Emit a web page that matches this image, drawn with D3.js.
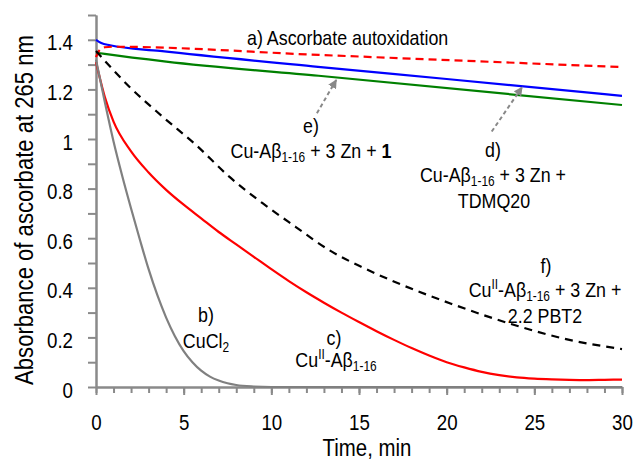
<!DOCTYPE html>
<html>
<head>
<meta charset="utf-8">
<script src="https://cdn.jsdelivr.net/npm/d3@7"></script>
<style>
  body { margin: 0; background: #fff; }
  text { font-family: "Liberation Sans Narrow", "Arial Narrow", "Liberation Sans", sans-serif; fill: #000; }
</style>
</head>
<body>
<svg width="638" height="460"></svg>
<script>
// time (min) / absorbance pairs
const autoxT = [0, 0.2, 0.5, 1, 12.7, 30]
const autoxV = [1.33, 1.358, 1.37, 1.372, 1.339, 1.29]

const cuclT = [0, 0.5, 1, 1.5, 2, 2.5, 3, 3.5, 4, 4.5, 5, 5.5, 6, 6.5, 7, 7.5, 8, 9, 10, 15, 20, 25, 30]
const cuclV = [1.32, 1.15, 0.99, 0.85, 0.72, 0.595, 0.475, 0.37, 0.28, 0.205, 0.145, 0.1, 0.066, 0.042, 0.026, 0.015, 0.008, 0.002, 0, 0, 0, 0, 0]

const cuAbT = [0, 0.5, 1, 2, 3, 4, 5, 6, 7, 8, 9, 10, 11, 12, 13, 14, 15, 16, 17, 18, 19, 20, 21, 22, 23, 24, 25, 26, 27, 28, 29, 30]
const cuAbV = [1.31, 1.17, 1.07, 0.95, 0.865, 0.795, 0.735, 0.68, 0.625, 0.575, 0.525, 0.475, 0.427, 0.382, 0.34, 0.3, 0.262, 0.225, 0.19, 0.157, 0.127, 0.1, 0.079, 0.061, 0.048, 0.039, 0.034, 0.031, 0.029, 0.028, 0.029, 0.03]

const tdmqT = [0, 0.3, 0.8, 3.65, 12.66, 20, 30]
const tdmqV = [1.40, 1.387, 1.378, 1.355, 1.291, 1.242, 1.174]

const cmpd1T = [0, 0.5, 4, 12.7, 30]
const cmpd1V = [1.348, 1.343, 1.312, 1.255, 1.137]

const pbt2T = [0, 1.9, 3.8, 5.7, 7.6, 9.5, 11.4, 13.3, 15.2, 16.9, 20.25, 24.1, 27, 30]
const pbt2V = [1.355, 1.211, 1.09, 0.976, 0.848, 0.741, 0.645, 0.552, 0.482, 0.428, 0.336, 0.245, 0.19, 0.153]

const xMajor = [0, 5, 10, 15, 20, 25, 30]
const xMinor = d3.range(0, 31)
const yMajor = [0, 0.2, 0.4, 0.6, 0.8, 1, 1.2, 1.4]
const yMinor = [0.1, 0.3, 0.5, 0.7, 0.9, 1.1, 1.3, 1.5]

// arrows: [tailT, tailV, tipT, tipV]
const arrowE = [12.6, 1.104, 13.7, 1.238]
const arrowD = [22.57, 1.03, 24.3, 1.209]

let svg = d3.select("svg")
let x = d3.scaleLinear().domain([0, 30]).range([96, 622])
let y = d3.scaleLinear().domain([0, 1.5]).range([387, 15])

let axisColor = "#8a8a8a"
let squeeze = 0.85   // no narrow font installed, so squeeze the regular one

// x axis
let gx = svg.append("g").attr("transform", "translate(0,387)")
gx.call(d3.axisBottom(x).tickValues(xMinor).tickSize(6).tickSizeOuter(0).tickFormat(""))
let gx2 = svg.append("g").attr("transform", "translate(0,387)")
gx2.call(d3.axisBottom(x).tickValues(xMajor).tickSize(8).tickSizeOuter(0).tickFormat(d3.format("d")))
gx2.selectAll("text").attr("x", 0).attr("y", 0).attr("dy", 0)
  .attr("transform", `translate(0,43) scale(${squeeze},1)`).style("font-size", "22px")

// y axis
let gy = svg.append("g").attr("transform", "translate(96,0)")
gy.call(d3.axisLeft(y).tickValues(yMinor).tickSize(8).tickSizeOuter(0).tickFormat(""))
let gy2 = svg.append("g").attr("transform", "translate(96,0)")
gy2.call(d3.axisLeft(y).tickValues(yMajor).tickSize(8).tickSizeOuter(0).tickFormat(d3.format("~g")))
gy2.selectAll("text").attr("x", 0).attr("dy", 0)
  .attr("transform", `translate(-23,10) scale(${squeeze},1)`).style("font-size", "22px")

svg.selectAll(".domain").attr("stroke", axisColor).attr("stroke-width", 2)
svg.selectAll(".tick line").attr("stroke", axisColor).attr("stroke-width", 2)

// titles
svg.append("text").attr("transform", `translate(367,456) scale(${squeeze},1)`)
  .attr("text-anchor", "middle").style("font-size", "24px").text("Time, min")
svg.append("text").attr("transform", `translate(33,210) rotate(-90) scale(${squeeze},1)`)
  .attr("text-anchor", "middle").style("font-size", "26px").text("Absorbance of ascorbate at 265 nm")

// curves
let line = d3.line().x(d => x(d[0])).y(d => y(d[1])).curve(d3.curveMonotoneX)
function drawCurve(ts, vs, color, dash) {
  svg.append("path")
    .datum(d3.zip(ts, vs))
    .attr("fill", "none")
    .attr("stroke", color)
    .attr("stroke-width", 2.2)
    .attr("stroke-dasharray", dash)
    .attr("d", line)
}
drawCurve(cmpd1T, cmpd1V, "#008000", null)
drawCurve(tdmqT, tdmqV, "#0000ff", null)
drawCurve(autoxT, autoxV, "#ff0000", "8,5")
drawCurve(pbt2T, pbt2V, "#000000", "8,6")
drawCurve(cuAbT, cuAbV, "#ff0000", null)
drawCurve(cuclT, cuclV, "#808080", null)

// arrows
svg.append("defs").append("marker")
  .attr("id", "ah").attr("viewBox", "0 0 10 10").attr("refX", 9).attr("refY", 5)
  .attr("markerWidth", 4.5).attr("markerHeight", 4.5).attr("orient", "auto")
  .append("path").attr("d", "M0,0L10,5L0,10z").attr("fill", "#888")
for (let a of [arrowE, arrowD]) {
  svg.append("line")
    .attr("x1", x(a[0])).attr("y1", y(a[1]))
    .attr("x2", x(a[2])).attr("y2", y(a[3]))
    .attr("stroke", "#888").attr("stroke-width", 2)
    .attr("stroke-dasharray", "4,3")
    .attr("marker-end", "url(#ah)")
}

// labels with sub/superscripts
function rich(cx, cy, parts, size, anchor) {
  let t = svg.append("text")
    .attr("transform", `translate(${cx},${cy}) scale(${squeeze},1)`)
    .attr("text-anchor", anchor || "middle").style("font-size", size + "px")
  let shift = 0
  for (let p of parts) {
    let s = t.append("tspan").text(p.t)
    let target = p.sub ? 4 : (p.sup ? -8 : 0)
    s.attr("dy", target - shift)
    shift = target
    if (p.sub || p.sup) s.style("font-size", Math.round(size * 0.66) + "px")
    if (p.bold) s.style("font-weight", "bold")
  }
}

let fs = 21
rich(247, 45, [{t: "a) Ascorbate autoxidation"}], fs, "start")
rich(206, 322, [{t: "b)"}], fs)
rich(206, 348, [{t: "CuCl"}, {t: "2", sub: true}], fs)
rich(334, 345, [{t: "c)"}], fs)
rich(336, 367, [{t: "Cu"}, {t: "II", sup: true}, {t: "-Aβ"}, {t: "1-16", sub: true}], fs)
rich(493, 157, [{t: "d)"}], fs)
rich(493, 182, [{t: "Cu-Aβ"}, {t: "1-16", sub: true}, {t: " + 3 Zn +"}], fs)
rich(494, 208, [{t: "TDMQ20"}], fs)
rich(311, 133, [{t: "e)"}], fs)
rich(311, 158, [{t: "Cu-Aβ"}, {t: "1-16", sub: true}, {t: " + 3 Zn + "}, {t: "1", bold: true}], fs)
rich(546, 273, [{t: "f)"}], fs)
rich(545, 297, [{t: "Cu"}, {t: "II", sup: true}, {t: "-Aβ"}, {t: "1-16", sub: true}, {t: " + 3 Zn +"}], fs)
rich(545, 323, [{t: "2.2 PBT2"}], fs)
</script>
</body>
</html>
